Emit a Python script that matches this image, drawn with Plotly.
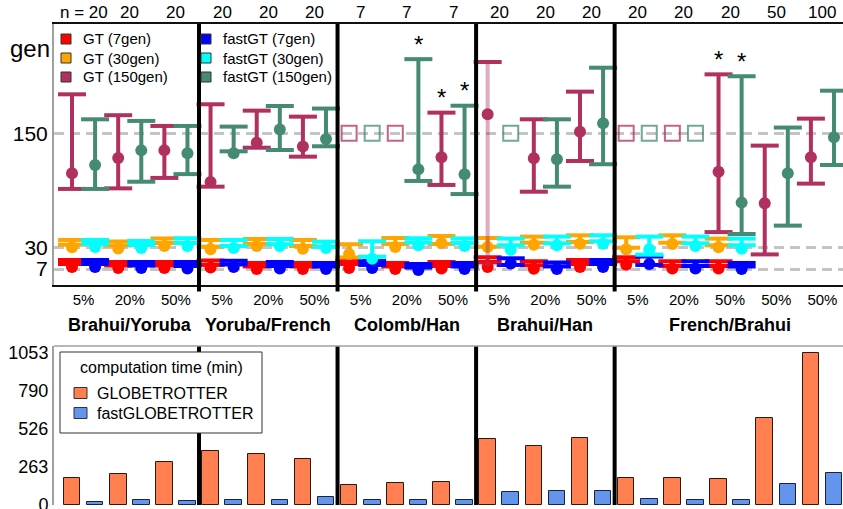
import plotly.graph_objects as go

# ---------------- data ----------------
groups = ["Brahui/Yoruba", "Yoruba/French", "Colomb/Han", "Brahui/Han", "French/Brahui"]
group_sizes = [3, 3, 3, 3, 5]
mix_labels = ["5%", "20%", "50%", "5%", "20%", "50%", "5%", "20%", "50%",
              "5%", "20%", "50%", "5%", "20%", "50%", "50%", "50%"]
n_labels = ["n = 20", "20", "20", "20", "20", "20", "7", "7", "7",
            "20", "20", "20", "20", "20", "20", "50", "100"]

# 150 generations (None = failed -> open square at 150)
gt150_pt = [108, 124, 132, 98.7, 140, 136, None, None, 124.7, 170, 123.7, 151.7, None, None, 109.6, 76.3, 124.7]
gt150_lo = [91.4, 92, 103, 93.8, 134.8, 125.4, None, None, 95.6, 13, 88.5, 120.8, None, None, 46, 22.5, 97]
gt150_hi = [191, 169, 157.7, 180.5, 173.8, 167.5, None, None, 171.7, 225, 164.7, 193.8, None, None, 212, 137, 165.4]
gt150_faded = [False, False, False, False, False, False, False, False, False, True,
               False, False, False, False, False, False, False]
fast150_pt = [116.6, 132, 129, 129, 154, 144, None, 112, 106.8, None, 122.6, 160.5, None, None, 77, 108, 145.8]
fast150_lo = [91.4, 99, 107, 131, 132.4, 136.3, None, 99.8, 86, None, 93.8, 117.4, None, None, 44, 52.8, 116.6]
fast150_hi = [164.7, 163, 157.7, 157, 178.7, 176, None, 228, 179, None, 164.7, 219, None, None, 210, 156, 194.8]
failed_value = 150

# 30 generations
gt30_pt = [30, 28.7, 31.4, 27.9, 31.4, 28.5, 23, 30.3, 34.5, 30.3, 32.7, 33.8, 28, 33.5, 30, None, None]
gt30_lo = [32.7, 31.9, 34.5, 30.6, 33.5, 31.4, 19.3, 33.5, 33.5, 30.6, 34.8, 35.6, 29.5, 34.8, 32.1, None, None]
gt30_hi = [37.7, 36.1, 39.3, 37.7, 38.7, 37.7, 33.2, 39.8, 41.9, 39.8, 41.2, 42.6, 40.5, 42.6, 39.1, None, None]
fast30_pt = [30.3, 29.3, 31.4, 29.3, 31.4, 29.3, 18, 32.1, 31.4, 27.5, 32.1, 33.8, 27.9, 31.4, 28.5, None, None]
fast30_lo = [33.5, 32.4, 34.5, 31.4, 33.2, 30.6, 20.1, 35, 34.5, 32.1, 34.2, 36.3, 22.2, 34.2, 32.1, None, None]
fast30_hi = [37.7, 36.6, 39.5, 37.7, 38.7, 35.9, 36.3, 39.5, 39.3, 39.1, 41.2, 42.6, 41.2, 41.2, 39.1, None, None]

# 7 generations
gt7_pt = [9.3, 8.2, 8.2, 8.7, 7.2, 7.2, 8.2, 7.2, 7.7, 9.3, 7.5, 9.3, 11.7, 7.7, 7.7, None, None]
gt7_lo = [12.4, 10.8, 10.8, 11.4, 9.8, 9.8, 12.4, 9.8, 10.3, 14.5, 11, 12.4, 15.3, 10.3, 10.3, None, None]
gt7_hi = [16.6, 14.5, 14.5, 16.1, 13.5, 13.5, 16.6, 13.5, 14.5, 19.5, 15.3, 16.6, 19.5, 15.3, 15.3, None, None]
fast7_pt = [9.3, 8.2, 7.7, 9.3, 7.7, 7.2, 8.2, 6.1, 7.2, 13, 7.2, 9.3, 12.4, 7.7, 7.2, None, None]
fast7_lo = [12.4, 10.8, 10.3, 11.9, 10.3, 9.8, 11.4, 8.7, 9.8, 11.4, 9.8, 12.4, 11.4, 10.3, 9.8, None, None]
fast7_hi = [16.6, 14.5, 14.5, 15.8, 14.5, 13.5, 15.6, 12.4, 13.5, 18.4, 14, 16.6, 20.3, 15.3, 13.5, None, None]

# significance stars: (condition index, method)
stars = [(7, "fast"), (8, "gt"), (8, "fast"), (14, "gt"), (14, "fast")]

# computation time (min)
gt_time = [185, 213, 296, 372, 351, 319, 136, 150, 162, 457, 407, 462, 187, 185, 178, 601, 1053]
fast_time = [23, 32, 28, 37, 32, 55, 32, 32, 32, 90, 97, 95, 39, 32, 32, 143, 222]
time_ticks = [0, 263, 526, 790, 1053]

# ---------------- styling ----------------
C = dict(gt7="#FF0000", gt30="#FFA500", gt150="#B03060",
         fast7="#0000FF", fast30="#00FFFF", fast150="#458B74")
FONT = "Liberation Sans, Arial, sans-serif"

W, H = 843, 509
ML, MR, MT, MB = 54, 0, 24, 4
PW, PH = W - ML - MR, H - MT - MB


def px(x):
    return (x - ML) / PW


def py(y):
    return (H - MB - y) / PH


ncond = len(mix_labels)
gt_x = [2 * k for k in range(ncond)]
fast_x = [2 * k + 1 for k in range(ncond)]
pair_x = [2 * k + 0.5 for k in range(ncond)]

fig = go.Figure()

CAP = dict(symbol="line-ew", size=20)
CAPW = 4


def add_series(xs, pt, lo, hi, color, faded=None):
    pts_x, pts_y = [], []
    sx, sy, fx, fy = [], [], [], []
    cx, cy, fcx, fcy = [], [], [], []
    for i, x in enumerate(xs):
        if pt[i] is None:
            continue
        f = faded[i] if faded else False
        pts_x.append(x); pts_y.append(pt[i])
        if f:
            fx += [x, x, None]; fy += [lo[i] - 3, hi[i], None]
            fcx.append(x); fcy.append(lo[i])
            cx.append(x); cy.append(hi[i])
        else:
            sx += [x, x, None]; sy += [lo[i], hi[i], None]
            cx += [x, x]; cy += [lo[i], hi[i]]
    fig.add_trace(go.Scatter(x=pts_x, y=pts_y, mode="markers", hoverinfo="skip",
                             marker=dict(symbol="circle", size=12, color=color, line=dict(width=0)),
                             showlegend=False))
    if fx:
        fig.add_trace(go.Scatter(x=fx, y=fy, mode="lines", opacity=0.4, hoverinfo="skip",
                                 line=dict(color=color, width=4), showlegend=False))
        fig.add_trace(go.Scatter(x=fcx, y=fcy, mode="markers", opacity=0.4, hoverinfo="skip",
                                 marker=dict(**CAP, line=dict(color=color, width=CAPW)),
                                 showlegend=False))
    fig.add_trace(go.Scatter(x=sx, y=sy, mode="lines", hoverinfo="skip",
                             line=dict(color=color, width=4), showlegend=False))
    fig.add_trace(go.Scatter(x=cx, y=cy, mode="markers", hoverinfo="skip",
                             marker=dict(**CAP, line=dict(color=color, width=CAPW)),
                             showlegend=False))


add_series(gt_x, gt7_pt, gt7_lo, gt7_hi, C["gt7"])
add_series(fast_x, fast7_pt, fast7_lo, fast7_hi, C["fast7"])
add_series(gt_x, gt30_pt, gt30_lo, gt30_hi, C["gt30"])
add_series(fast_x, fast30_pt, fast30_lo, fast30_hi, C["fast30"])
add_series(gt_x, gt150_pt, gt150_lo, gt150_hi, C["gt150"], gt150_faded)
add_series(fast_x, fast150_pt, fast150_lo, fast150_hi, C["fast150"])

# failed runs: open squares
for xs, pts, col in [(gt_x, gt150_pt, C["gt150"]), (fast_x, fast150_pt, C["fast150"])]:
    fx = [x for x, p in zip(xs, pts) if p is None]
    fig.add_trace(go.Scatter(x=fx, y=[failed_value] * len(fx), mode="markers", opacity=0.75,
                             hoverinfo="skip", showlegend=False,
                             marker=dict(symbol="square-open", size=15, color=col, line=dict(width=2, color=col))))

# bars
fig.add_trace(go.Bar(x=gt_x, y=gt_time, xaxis="x2", yaxis="y2", width=0.72, showlegend=False,
                     marker=dict(color="#FF7F50", line=dict(color="#2a1a10", width=1))))
fig.add_trace(go.Bar(x=fast_x, y=fast_time, xaxis="x2", yaxis="y2", width=0.72, showlegend=False,
                     marker=dict(color="#6495ED", line=dict(color="#1a2238", width=1))))

xr = [-0.78, 33.39]
top_dom = [py(285), 1]
bot_dom = [0, py(346)]

fig.update_layout(
    width=W, height=H, margin=dict(l=ML, r=MR, t=MT, b=MB, autoexpand=False),
    paper_bgcolor="white", plot_bgcolor="white",
    font=dict(family=FONT, color="black"),
    bargap=0,
    xaxis=dict(domain=[0, 1], range=xr, anchor="y", tickvals=pair_x, ticktext=mix_labels,
               tickfont=dict(size=15), ticks="", showgrid=False, zeroline=False, automargin=False,
               showline=True, linecolor="#111", linewidth=2, mirror=True, ticklabeloverflow="allow"),
    yaxis=dict(domain=top_dom, range=[-9.7, 265], anchor="x", tickvals=[7, 30, 150],
               ticktext=["7", "30", "150"], tickfont=dict(size=21), ticks="", automargin=False,
               showgrid=True, gridcolor="#C4C4C4", gridwidth=3, griddash="10px,6px",
               zeroline=False, showline=True, linecolor="#A0A0A0", linewidth=2),
    xaxis2=dict(domain=[0, 1], range=xr, anchor="y2", showticklabels=False, ticks="",
                automargin=False, showgrid=False, zeroline=False, showline=False),
    yaxis2=dict(domain=bot_dom, range=[0, 1098], anchor="x2", tickvals=time_ticks, automargin=False,
                ticktext=[str(t) for t in time_ticks], tickfont=dict(size=18), ticks="",
                ticklabeloverflow="allow",
                showgrid=False, zeroline=False, showline=True, linecolor="#A0A0A0", linewidth=2),
)

shapes = []
# group separators
bounds = []
acc = 0
for s in group_sizes[:-1]:
    acc += s
    bounds.append(2 * acc - 0.5)
for b in bounds:
    shapes.append(dict(type="line", xref="x", yref="y domain", x0=b, x1=b, y0=-0.025, y1=1,
                       line=dict(color="black", width=4)))
    shapes.append(dict(type="line", xref="x2", yref="y2 domain", x0=b, x1=b, y0=0, y1=1,
                       line=dict(color="black", width=4)))
# top border of lower panel
shapes.append(dict(type="line", xref="paper", yref="paper", x0=0, x1=1, y0=py(346), y1=py(346),
                   line=dict(color="#A0A0A0", width=1.5)))

annotations = []
# n labels
for x, t in zip(pair_x, n_labels):
    annotations.append(dict(x=x, y=py(13), xref="x", yref="paper", text=t, showarrow=False,
                            font=dict(size=17), xanchor="center", yanchor="middle"))
# group labels
start = 0
for g, s in zip(groups, group_sizes):
    cx = (2 * start + 2 * (start + s) - 1) / 2
    annotations.append(dict(x=cx, y=py(325), xref="x", yref="paper", text="<b>%s</b>" % g,
                            showarrow=False, font=dict(size=18, family=FONT),
                            xanchor="center", yanchor="middle"))
    start += s
# stars
for k, m in stars:
    x = gt_x[k] if m == "gt" else fast_x[k]
    hi = gt150_hi[k] if m == "gt" else fast150_hi[k]
    annotations.append(dict(x=x, y=hi, xref="x", yref="y", text="*", showarrow=False,
                            font=dict(size=24), xanchor="center", yanchor="middle", yshift=15))
# "gen" label
annotations.append(dict(x=px(52), y=py(48), xref="paper", yref="paper", text="gen", showarrow=False,
                        font=dict(size=24), xanchor="right", yanchor="middle"))

# top legend (two columns)
legend_top = [("GT (7gen)", C["gt7"]), ("GT (30gen)", C["gt30"]), ("GT (150gen)", C["gt150"]),
              ("fastGT (7gen)", C["fast7"]), ("fastGT (30gen)", C["fast30"]), ("fastGT (150gen)", C["fast150"])]
for i, (lab, col) in enumerate(legend_top):
    colx = 66 if i < 3 else 206
    rowy = 39 + 19 * (i % 3)
    shapes.append(dict(type="rect", xref="paper", yref="paper",
                       x0=px(colx - 5), x1=px(colx + 5), y0=py(rowy + 5), y1=py(rowy - 5),
                       fillcolor=col, line=dict(color="#333", width=1)))
    annotations.append(dict(x=px(colx + 15), y=py(rowy), xref="paper", yref="paper", text=lab,
                            showarrow=False, font=dict(size=15), xanchor="left", yanchor="middle"))

# bottom legend
shapes.append(dict(type="rect", xref="paper", yref="paper", x0=px(60), x1=px(262), y0=py(433), y1=py(352),
                   fillcolor="white", line=dict(color="#333", width=1)))
annotations.append(dict(x=px(161), y=py(367), xref="paper", yref="paper", text="computation time (min)",
                        showarrow=False, font=dict(size=16), xanchor="center", yanchor="middle"))
for (lab, col), yy in zip([("GLOBETROTTER", "#FF7F50"), ("fastGLOBETROTTER", "#6495ED")], [393, 413]):
    shapes.append(dict(type="rect", xref="paper", yref="paper", x0=px(74), x1=px(87),
                       y0=py(yy + 5.5), y1=py(yy - 5.5), fillcolor=col, line=dict(color="#333", width=1)))
    annotations.append(dict(x=px(95), y=py(yy), xref="paper", yref="paper", text=lab, showarrow=False,
                            font=dict(size=16), xanchor="left", yanchor="middle"))

fig.update_layout(shapes=shapes, annotations=annotations)
fig.write_html("out.html", config={"displayModeBar": False},
               post_script="document.body.style.margin='0';document.body.style.overflow='hidden';")
